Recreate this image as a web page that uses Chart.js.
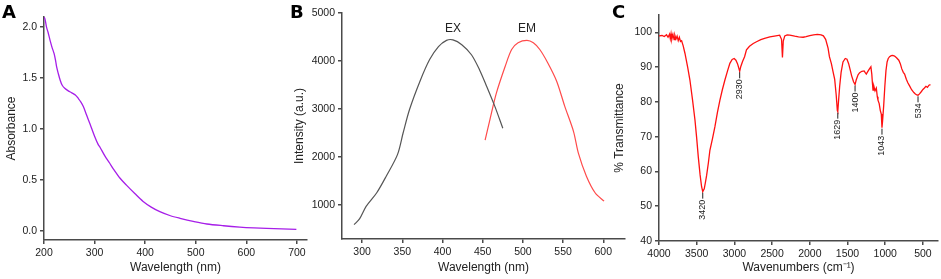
<!DOCTYPE html>
<html>
<head>
<meta charset="utf-8">
<script src="https://cdn.jsdelivr.net/npm/chart.js@4.4.1/dist/chart.umd.min.js"></script>
<style>
  body { margin: 0; background: #fff; width: 941px; height: 279px; position: relative; overflow: hidden; }
  canvas { position: absolute; top: 0; }
  .tag { position: absolute; font: bold 18px/18px "DejaVu Sans", Arial, sans-serif; color: #000; }
</style>
</head>
<body>
<canvas id="chartA" width="312" height="279" style="left:0px"></canvas>
<canvas id="chartB" width="340" height="279" style="left:288px"></canvas>
<canvas id="chartC" width="333" height="279" style="left:608px"></canvas>
<div class="tag" style="left:2px;top:3px">A</div>
<div class="tag" style="left:290px;top:3px">B</div>
<div class="tag" style="left:612px;top:3px">C</div>
<script>
// ---- Panel A: UV-vis absorbance ----
const absWavelength = [200, 202, 205, 208, 212, 216, 220, 223, 225, 228, 232, 236, 241, 248, 255, 262, 268, 273, 278, 284, 291, 300, 307, 311, 320, 330, 337, 350, 363, 380, 396, 412, 429, 450, 469, 495, 522, 555, 587, 615, 640, 670, 699];
const absValues = [2.10, 2.08, 2.00, 1.95, 1.87, 1.80, 1.74, 1.67, 1.61, 1.55, 1.48, 1.43, 1.40, 1.375, 1.356, 1.335, 1.30, 1.265, 1.22, 1.14, 1.05, 0.93, 0.85, 0.82, 0.74, 0.665, 0.61, 0.52, 0.45, 0.365, 0.29, 0.235, 0.19, 0.15, 0.125, 0.095, 0.069, 0.052, 0.039, 0.031, 0.026, 0.021, 0.017];
const absXTicks = [200, 300, 400, 500, 600, 700];
const absYTicks = [0, 0.5, 1.0, 1.5, 2.0];

// ---- Panel B: excitation / emission ----
const exWavelength = [290, 297, 305, 318, 330, 344, 351, 359, 372, 384, 395, 405, 413, 424, 436, 446, 455, 465, 475];
const exIntensity = [590, 715, 970, 1250, 1600, 2050, 2500, 2990, 3580, 4030, 4300, 4430, 4440, 4340, 4130, 3820, 3470, 3060, 2600];
const emWavelength = [453, 459, 467, 478, 486, 494, 505, 513, 521, 531, 542, 552, 563, 569, 579, 590, 601];
const emIntensity = [2350, 2780, 3330, 3890, 4240, 4380, 4430, 4380, 4240, 3960, 3580, 3060, 2530, 2080, 1600, 1250, 1080];
const flXTicks = [300, 350, 400, 450, 500, 550, 600];
const flYTicks = [1000, 2000, 3000, 4000, 5000];
const flLabels = ['EX', 'EM'];
const flLabelX = [413, 505];
const flLabelY = [4667, 4667];

// ---- Panel C: FTIR ----
const irWavenumber = [4000, 3960, 3930, 3900, 3880, 3860, 3850, 3840, 3830, 3815, 3800, 3790, 3775, 3760, 3745, 3730, 3715, 3700, 3680, 3656, 3620, 3590, 3555, 3523, 3500, 3479, 3455, 3435, 3420, 3400, 3385, 3369, 3345, 3325, 3290, 3259, 3225, 3192, 3160, 3126, 3090, 3060, 3030, 3003, 2980, 2959, 2940, 2930, 2915, 2892, 2865, 2840, 2800, 2750, 2707, 2650, 2600, 2530, 2450, 2400, 2375, 2363, 2352, 2332, 2300, 2266, 2200, 2150, 2089, 2050, 2000, 1950, 1900, 1850, 1820, 1790, 1758, 1740, 1714, 1690, 1670, 1650, 1635, 1629, 1620, 1604, 1585, 1560, 1530, 1507, 1485, 1471, 1445, 1420, 1400, 1385, 1360, 1339, 1310, 1280, 1265, 1251, 1230, 1207, 1190, 1178, 1170, 1162, 1150, 1135, 1118, 1105, 1096, 1080, 1065, 1052, 1043, 1035, 1020, 1005, 990, 975, 960, 942, 920, 900, 876, 850, 820, 800, 780, 760, 743, 720, 700, 677, 650, 620, 600, 580, 565, 545, 520, 500, 480, 460, 440, 420, 400];
const irTransmittance = [99.0, 99.1, 98.8, 99.3, 98.6, 99.5, 98.2, 99.6, 98.0, 99.4, 97.9, 99.2, 98.1, 98.9, 97.6, 98.6, 97.4, 97.6, 96.2, 94.0, 90.0, 86.3, 80.5, 74.8, 69.5, 64.2, 59.0, 55.6, 54.2, 55.0, 56.8, 58.8, 62.5, 66.1, 69.5, 72.8, 77.0, 80.5, 83.5, 86.3, 89.0, 91.1, 92.2, 92.5, 92.0, 91.0, 89.6, 88.8, 90.2, 91.6, 93.0, 95.0, 96.0, 96.8, 97.3, 97.9, 98.3, 98.7, 99.0, 99.2, 98.0, 92.8, 97.5, 99.0, 99.3, 99.2, 98.9, 98.7, 98.6, 98.8, 99.1, 99.3, 99.4, 99.3, 99.0, 98.0, 95.5, 93.0, 91.0, 88.5, 86.5, 82.0, 77.5, 77.2, 80.0, 84.5, 88.5, 91.5, 92.5, 92.3, 91.0, 89.8, 87.5, 85.8, 85.0, 86.3, 87.8, 88.4, 88.8, 88.9, 88.4, 88.0, 88.8, 89.6, 90.1, 88.0, 85.5, 83.4, 84.5, 83.2, 84.0, 81.5, 80.5, 79.5, 77.5, 76.5, 72.6, 74.5, 79.0, 84.5, 89.0, 91.5, 92.5, 93.0, 93.3, 93.4, 93.2, 92.7, 92.0, 91.0, 89.5, 88.5, 88.0, 86.5, 85.5, 84.6, 83.5, 82.7, 82.3, 82.0, 81.9, 82.3, 83.0, 83.6, 84.0, 84.5, 84.2, 84.8, 85.0];
const irXTicks = [4000, 3500, 3000, 2500, 2000, 1500, 1000, 500];
const irYTicks = [40, 50, 60, 70, 80, 90, 100];
const peakLabels = ['3420', '2930', '1629', '1400', '1043', '534'];
const peakPos = [3420, 2930, 1629, 1400, 1043, 565];

Chart.defaults.font.family = '"Liberation Sans", Arial, sans-serif';
Chart.defaults.color = '#222';

function toPoints(xs, ys) {
    return xs.map((x, i) => ({ x: x, y: ys[i] }));
}

// shared axis look: dark frame, short outside ticks, no grid
function axis(title, min, max, tickVals, size, isY, extra) {
    const s = {
        type: 'linear',
        min: min,
        max: max,
        border: { display: true, color: '#4a4a4a', width: 1.5 },
        grid: { drawOnChartArea: false, drawTicks: true, tickLength: 4, color: '#4a4a4a', lineWidth: 1.5 },
        ticks: { color: '#222', font: { size: 10.5 }, padding: 3, maxRotation: 0, callback: v => String(v) },
        title: { display: true, text: title, color: '#222', font: { size: 12 }, padding: { top: 4, bottom: 4 } },
        afterBuildTicks: a => { a.ticks = tickVals.map(v => ({ value: v })); },
        afterFit: s2 => { if (isY) s2.width = size; else s2.height = size; }
    };
    return Object.assign(s, extra || {});
}

function lineSet(points, color, width, tension) {
    return {
        data: points,
        borderColor: color,
        borderWidth: width,
        pointRadius: 0,
        tension: tension,
        fill: false
    };
}

const baseOpts = (pad, scales) => ({
    responsive: false,
    animation: false,
    layout: { padding: pad },
    plugins: { legend: { display: false }, tooltip: { enabled: false } },
    scales: scales
});

// Panel A
const yA = axis('Absorbance', -0.088, 2.1, absYTicks, 44, true);
yA.ticks.callback = v => v.toFixed(1);
new Chart(document.getElementById('chartA'), {
    type: 'line',
    data: { datasets: [lineSet(toPoints(absWavelength, absValues), '#a61ee8', 1.3, 0.3)] },
    options: baseOpts({ top: 17, right: 5, left: 0, bottom: 0 }, {
        x: axis('Wavelength (nm)', 200, 720, absXTicks, 39, false),
        y: yA
    })
});

// Panel B
const flText = {
    id: 'flText',
    afterDatasetsDraw(chart) {
        const ctx = chart.ctx;
        ctx.save();
        ctx.font = '12px "Liberation Sans", Arial, sans-serif';
        ctx.fillStyle = '#222';
        ctx.textAlign = 'center';
        ctx.textBaseline = 'middle';
        flLabels.forEach((t, i) => {
            ctx.fillText(t, chart.scales.x.getPixelForValue(flLabelX[i]), chart.scales.y.getPixelForValue(flLabelY[i]));
        });
        ctx.restore();
    }
};
new Chart(document.getElementById('chartB'), {
    type: 'line',
    data: { datasets: [
        lineSet(toPoints(exWavelength, exIntensity), '#555555', 1.2, 0.3),
        lineSet(toPoints(emWavelength, emIntensity), '#ff4a4a', 1.2, 0.3)
    ] },
    options: baseOpts({ top: 13, right: 3, left: 0, bottom: 0 }, {
        x: axis('Wavelength (nm)', 275, 627, flXTicks, 40, false),
        y: axis('Intensity (a.u.)', 292, 5000, flYTicks, 54, true)
    }),
    plugins: [flText]
});

// Panel C
const peakText = {
    id: 'peakText',
    afterDatasetsDraw(chart) {
        const ctx = chart.ctx;
        const xs = chart.scales.x, ys = chart.scales.y;
        ctx.save();
        ctx.font = '9px "Liberation Sans", Arial, sans-serif';
        ctx.fillStyle = '#222';
        ctx.strokeStyle = '#222';
        ctx.lineWidth = 1;
        peakLabels.forEach((t, i) => {
            // nearest spectrum value under the label
            let best = 0;
            irWavenumber.forEach((w, j) => {
                if (Math.abs(w - peakPos[i]) < Math.abs(irWavenumber[best] - peakPos[i])) best = j;
            });
            const px = xs.getPixelForValue(peakPos[i]);
            const py = ys.getPixelForValue(irTransmittance[best]) + 1;
            ctx.beginPath();
            ctx.moveTo(px, py);
            ctx.lineTo(px, py + 6);
            ctx.stroke();
            ctx.save();
            ctx.translate(px, py + 7);
            ctx.rotate(-Math.PI / 2);
            ctx.textAlign = 'right';
            ctx.textBaseline = 'middle';
            ctx.fillText(t, 0, 0);
            ctx.restore();
        });
        ctx.restore();
    }
};
new Chart(document.getElementById('chartC'), {
    type: 'line',
    data: { datasets: [lineSet(toPoints(irWavenumber, irTransmittance), '#ff1010', 1.3, 0)] },
    options: baseOpts({ top: 15, right: 3, left: 0, bottom: 0 }, {
        x: axis('Wavenumbers (cm⁻¹)', 300, 4000, irXTicks, 38, false, { reverse: true }),
        y: axis('% Transmittance', 40, 105, irYTicks, 51, true)
    }),
    plugins: [peakText]
});
</script>
</body>
</html>
